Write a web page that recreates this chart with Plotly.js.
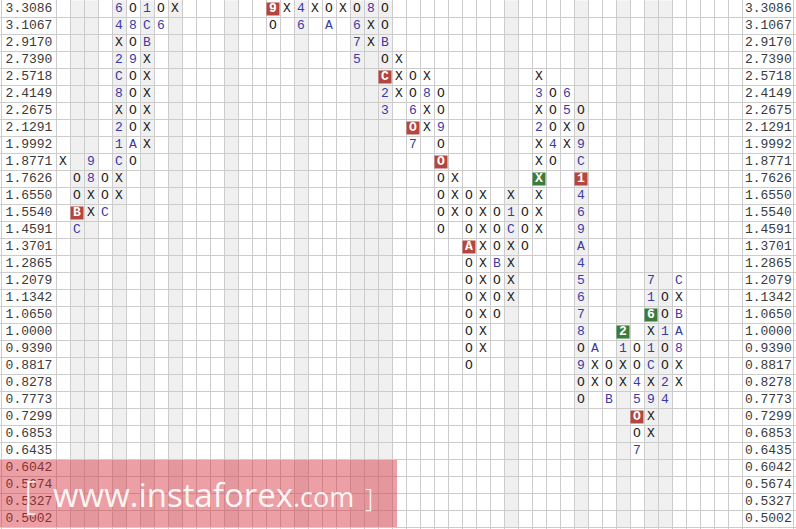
<!DOCTYPE html>
<html>
<head>
<meta charset="utf-8">
<script src="https://cdn.plot.ly/plotly-3.0.1.min.js"></script>
<style>html,body{margin:0;padding:0;background:#fff;}#chart{width:796px;height:529px;}</style>
</head>
<body>
<div id="chart"></div>
<script>
// Box size levels (price scale), top to bottom
const priceLevels = ["3.3086","3.1067","2.9170","2.7390","2.5718","2.4149","2.2675","2.1291","1.9992","1.8771",
  "1.7626","1.6550","1.5540","1.4591","1.3701","1.2865","1.2079","1.1342","1.0650","1.0000",
  "0.9390","0.8817","0.8278","0.7773","0.7299","0.6853","0.6435","0.6042","0.5674","0.5327","0.5002"];

// Point & figure columns: column number, price of the top visible box, boxes top->bottom
// '*' = next box highlighted red, '+' = next box highlighted green
const columnIndex = [0,1,2,3,4,5,6,7,8,15,16,17,18,19,20,21,22,23,24,25,26,27,28,29,30,31,32,33,34,35,36,37,38,39,40,41,42,43,44];
const columnTop = ["1.8771","1.7626","1.8771","1.7626","3.3086","3.3086","3.3086","3.3086","3.3086",
  "3.3086","3.3086","3.3086","3.3086","3.3086","3.3086","3.3086","3.3086","3.3086",
  "2.7390","2.5718","2.5718","2.4149","1.7626","1.6550","1.6550","1.5540","1.6550","1.5540",
  "2.5718","2.4149","2.4149","2.2675","0.9390","0.8817","1.0000","0.9390","1.2079","1.1342","1.2079"];
const columnCells = ["X","OO*BC","98XX","OOC","64X2C8X21CXX","O8O9OOOOAO","1CBXXXXXX","O6","X",
  "*9O","X","46","X","OA","X","O675","8XX","OOBO*C23",
  "XXX","OO6*O7","X8XX","OO9O*OOOOO","XXX","OOO*AOOOOOOO","XXXXXXXXXX","OOOBOOO","X1CXXXX","OOO",
  "X3X2XX+XXXX","OOO4O","65XX","OO9C*1469A45678O9OO","AXX","OOB","+21XX","OO45*OO7","71+6X1CX9XX","OO1OO24","CXBA8XX"];

const shadedColumns = [1,2,4,6,8,12,17,21,22,23,32,37,40,42,43];
const totalColumns = 49;

// ---- build cells ----
const xo = {x:[],y:[],t:[]}, mk = {x:[],y:[],t:[]}, red = {x:[],y:[],t:[]}, green = {x:[],y:[],t:[]};
columnIndex.forEach((c, i) => {
  let r = priceLevels.indexOf(columnTop[i]);
  const s = columnCells[i];
  for (let k = 0; k < s.length; k++) {
    let ch = s[k], target;
    if (ch === '*') { target = red; ch = s[++k]; }
    else if (ch === '+') { target = green; ch = s[++k]; }
    else if (ch === 'X' || ch === 'O') target = xo;
    else target = mk;
    target.x.push(c); target.y.push(r); target.t.push(ch);
    r++;
  }
});

const nRows = priceLevels.length;
const rowIdx = priceLevels.map((_, i) => i);
const LEFT_LABEL_X = -4.5 + 29 / 14;
const RIGHT_LABEL_X = -4.5 + 768.3 / 14;

const mono = "Liberation Mono, Courier New, monospace";
const traces = [
  {type:'scatter', mode:'markers', x:red.x, y:red.y, marker:{symbol:'square', size:13, color:'#b4463f', line:{width:0}}, hoverinfo:'skip'},
  {type:'scatter', mode:'markers', x:green.x, y:green.y, marker:{symbol:'square', size:13, color:'#3d7b3d', line:{width:0}}, hoverinfo:'skip'},
  {type:'scatter', mode:'text', x:xo.x, y:xo.y, text:xo.t, textposition:'middle center', textfont:{family:mono, size:13, color:'#222222'}, hoverinfo:'skip'},
  {type:'scatter', mode:'text', x:mk.x, y:mk.y, text:mk.t, textposition:'middle center', textfont:{family:mono, size:13, color:'#3a3aa8'}, hoverinfo:'skip'},
  {type:'scatter', mode:'text', x:red.x.concat(green.x), y:red.y.concat(green.y), text:red.t.concat(green.t), textposition:'middle center', textfont:{family:mono, size:13, color:'#ffffff', weight:'bold'}, hoverinfo:'skip'},
  {type:'scatter', mode:'text', x:rowIdx.map(() => LEFT_LABEL_X), y:rowIdx, text:priceLevels, textposition:'middle center', textfont:{family:mono, size:13, color:'#3a3a3a'}, hoverinfo:'skip'},
  {type:'scatter', mode:'text', x:rowIdx.map(() => RIGHT_LABEL_X), y:rowIdx, text:priceLevels, textposition:'middle center', textfont:{family:mono, size:13, color:'#3a3a3a'}, hoverinfo:'skip'}
];

// grid positions
const xGrid = [-4.5 + 1.5 / 14];
for (let k = 0; k <= totalColumns; k++) xGrid.push(k - 0.5);
xGrid.push(-4.5 + 793.5 / 14);
const yGrid = [];
for (let r = 0; r <= nRows; r++) yGrid.push(r - 0.5);

const shapes = shadedColumns.map(c => ({
  type:'rect', xref:'x', yref:'y', x0:c - 0.5, x1:c + 0.5, y0:-0.5, y1:nRows - 0.5,
  fillcolor:'#f0f0f0', line:{width:0}, layer:'below'
}));
// watermark panel
shapes.push({type:'rect', xref:'paper', yref:'paper', x0:0, x1:397/796, y0:1 - 527/529, y1:1 - 460/529,
  fillcolor:'rgba(212,45,55,0.45)', line:{width:0}, layer:'above'});

const wmFont = "Open Sans, Noto Sans, sans-serif";
const annotations = [
  {xref:'paper', yref:'paper', x:22/796, y:1 - 494/529, xanchor:'left', yanchor:'middle', showarrow:false,
   text:'[', font:{family:wmFont, size:38, color:'rgba(255,255,255,0.9)', weight:300}},
  {xref:'paper', yref:'paper', x:51/796, y:1 - 494/529, xanchor:'left', yanchor:'middle', showarrow:false,
   text:'www.instaforex<span style="font-size:27px">.com</span>', font:{family:wmFont, size:33, color:'rgba(255,255,255,0.92)'}},
  {xref:'paper', yref:'paper', x:363/796, y:1 - 497/529, xanchor:'left', yanchor:'middle', showarrow:false,
   text:']', font:{family:wmFont, size:26, color:'rgba(255,255,255,0.9)', weight:300}}
];

const layout = {
  width:796, height:529, margin:{l:0,r:0,t:0,b:0}, paper_bgcolor:'#ffffff', plot_bgcolor:'#ffffff',
  showlegend:false,
  xaxis:{range:[-4.5, -4.5 + 796/14], tickmode:'array', tickvals:xGrid, showticklabels:false, ticks:'',
         showgrid:true, gridcolor:'#cccccc', gridwidth:1, zeroline:false, showline:false, fixedrange:true},
  yaxis:{range:[-0.5 + 528.5/17, -0.5 - 0.5/17], tickmode:'array', tickvals:yGrid, showticklabels:false, ticks:'',
         showgrid:true, gridcolor:'#cccccc', gridwidth:1, zeroline:false, showline:false, fixedrange:true},
  shapes:shapes, annotations:annotations
};

Plotly.newPlot('chart', traces, layout, {staticPlot:true, displayModeBar:false});
</script>
</body>
</html>
